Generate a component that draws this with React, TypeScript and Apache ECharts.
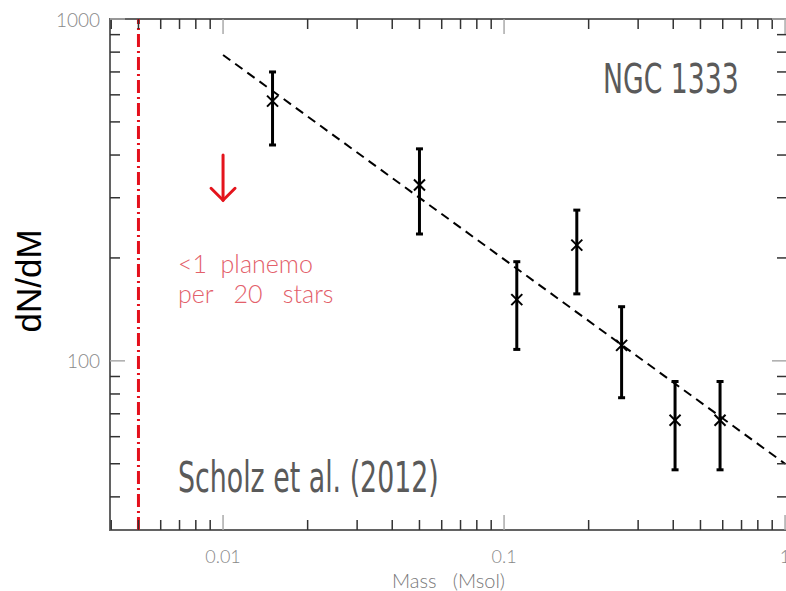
import React, { useEffect, useRef } from "react";
import * as echarts from "echarts";

// Data (Scholz et al. 2012, NGC 1333)
const massVals = [0.015, 0.05, 0.111, 0.1815, 0.262, 0.406, 0.587];
const dndmVals = [575, 327, 151, 218, 111, 67, 67];
const errLow = [428, 235, 108, 157, 78, 48, 48];
const errHigh = [700, 417, 195, 276, 144, 87, 87];

// Power-law fit line endpoints
const fitMass = [0.01, 1.0];
const fitDndm = [785, 50];

// Limit line and arrow
const limitMass = [0.005];
const arrowMass = [0.01];
const arrowTop = [400];
const arrowTip = [295];

// Axis extents and ticks
const X_MIN = 0.00396;
const X_MAX = 1.016;
const Y_MIN = 32;
const Y_MAX = 1000;
const xMajorTicks = [0.01, 0.1, 1];
const xMinorTicks = [0.004, 0.005, 0.006, 0.007, 0.008, 0.009, 0.02, 0.03, 0.04, 0.05, 0.06, 0.07, 0.08, 0.09, 0.2, 0.3, 0.4, 0.5, 0.6, 0.7, 0.8, 0.9];
const yMajorTicks = [100, 1000];
const yMinorTicks = [40, 50, 60, 70, 80, 90, 200, 300, 400, 500, 600, 700, 800, 900];
const xTickLabels: Record<string, string> = { "-2": "0.01", "-1": "0.1", "0": "1" };
const yTickLabels: Record<string, string> = { "2": "100", "3": "1000" };

function labelFor(map: Record<string, string>, v: number) {
  const l = Math.log10(v);
  const r = Math.round(l);
  if (Math.abs(l - r) < 1e-6) return map[String(r)] || "";
  return "";
}

function makeXTickSeries(vals: number[], len: number, color: string) {
  return {
    type: "custom",
    silent: true,
    clip: false,
    z: 5,
    data: vals.map((v) => [v, Y_MIN]),
    encode: { x: 0, y: 1 },
    renderItem: (params: any, api: any) => {
      const v = api.value(0);
      const b = api.coord([v, Y_MIN]);
      const t = api.coord([v, Y_MAX]);
      const style = { stroke: color, lineWidth: 1.5 };
      return {
        type: "group",
        children: [
          { type: "line", shape: { x1: b[0], y1: b[1], x2: b[0], y2: b[1] - len }, style },
          { type: "line", shape: { x1: t[0], y1: t[1], x2: t[0], y2: t[1] + len }, style },
        ],
      };
    },
  };
}

function makeYTickSeries(vals: number[], len: number, color: string) {
  return {
    type: "custom",
    silent: true,
    clip: false,
    z: 5,
    data: vals.map((v) => [X_MIN, v]),
    encode: { x: 0, y: 1 },
    renderItem: (params: any, api: any) => {
      const v = api.value(1);
      const l = api.coord([X_MIN, v]);
      const r = api.coord([X_MAX, v]);
      const style = { stroke: color, lineWidth: 1.5 };
      return {
        type: "group",
        children: [
          { type: "line", shape: { x1: l[0], y1: l[1], x2: l[0] + len, y2: l[1] }, style },
          { type: "line", shape: { x1: r[0], y1: r[1], x2: r[0] - len, y2: r[1] }, style },
        ],
      };
    },
  };
}

export default function App() {
  const ref = useRef<HTMLDivElement>(null);

  useEffect(() => {
    if (!ref.current) return;
    const chart = echarts.init(ref.current, undefined, { renderer: "svg" });

    const pointData = massVals.map((m, i) => [m, dndmVals[i], errLow[i], errHigh[i]]);

    chart.setOption({
      animation: false,
      backgroundColor: "#ffffff",
      grid: {
        left: 110, top: 19, right: -1, bottom: 61,
        outerBoundsMode: "none", containLabel: false,
        show: true, borderColor: "#636363", borderWidth: 2, backgroundColor: "transparent",
      },
      xAxis: {
        type: "log",
        logBase: 10,
        min: X_MIN,
        max: X_MAX,
        name: "Mass   (Msol)",
        nameLocation: "middle",
        nameGap: 34,
        nameTextStyle: { color: "#777777", fontSize: 20, fontFamily: "Lato", fontWeight: 300 },
        axisLine: { show: false },
        axisTick: { show: false },
        splitLine: { show: false },
        minorTick: { show: false },
        axisLabel: {
          margin: 17,
          color: "#888888",
          fontSize: 18,
          fontFamily: "Lato",
          fontWeight: 300,
          formatter: (v: number) => labelFor(xTickLabels, v),
        },
      },
      yAxis: {
        type: "log",
        logBase: 10,
        min: Y_MIN,
        max: Y_MAX,
        axisLine: { show: false },
        axisTick: { show: false },
        splitLine: { show: false },
        axisLabel: {
          margin: 10,
          color: "#888888",
          fontSize: 19,
          fontFamily: "Lato",
          fontWeight: 300,
          formatter: (v: number) => labelFor(yTickLabels, v),
        },
      },
      series: [
        makeXTickSeries(xMinorTicks, 10, "#333333"),
        makeXTickSeries(xMajorTicks, 15, "#aaaaaa"),
        makeYTickSeries(yMinorTicks, 10, "#333333"),
        makeYTickSeries(yMajorTicks, 15, "#aaaaaa"),
        {
          type: "line",
          data: limitMass.flatMap((m) => [[m, Y_MIN], [m, Y_MAX]]),
          symbol: "none",
          silent: true,
          lineStyle: { color: "#e4101c", width: 3, type: [13, 4, 2, 4] },
          z: 3,
        },
        {
          type: "line",
          data: fitMass.map((m, i) => [m, fitDndm[i]]),
          symbol: "none",
          silent: true,
          lineStyle: { color: "#000000", width: 2, type: [9, 6] },
          z: 3,
        },
        {
          type: "custom",
          silent: true,
          z: 4,
          data: pointData,
          encode: { x: 0, y: 1 },
          renderItem: (params: any, api: any) => {
            const c = api.coord([api.value(0), api.value(1)]);
            const lo = api.coord([api.value(0), api.value(2)]);
            const hi = api.coord([api.value(0), api.value(3)]);
            const cap = 3.5;
            const xs = 5.5;
            const st = { stroke: "#000000", lineWidth: 3 };
            const sx = { stroke: "#000000", lineWidth: 2 };
            return {
              type: "group",
              children: [
                { type: "line", shape: { x1: c[0], y1: hi[1], x2: c[0], y2: lo[1] }, style: st },
                { type: "line", shape: { x1: c[0] - cap, y1: hi[1], x2: c[0] + cap, y2: hi[1] }, style: st },
                { type: "line", shape: { x1: c[0] - cap, y1: lo[1], x2: c[0] + cap, y2: lo[1] }, style: st },
                { type: "line", shape: { x1: c[0] - xs, y1: c[1] - xs, x2: c[0] + xs, y2: c[1] + xs }, style: sx },
                { type: "line", shape: { x1: c[0] - xs, y1: c[1] + xs, x2: c[0] + xs, y2: c[1] - xs }, style: sx },
              ],
            };
          },
        },
        {
          type: "custom",
          silent: true,
          z: 4,
          data: arrowMass.map((m, i) => [m, arrowTop[i], arrowTip[i]]),
          encode: { x: 0, y: 1 },
          renderItem: (params: any, api: any) => {
            const t = api.coord([api.value(0), api.value(1)]);
            const b = api.coord([api.value(0), api.value(2)]);
            const st = { stroke: "#e4141c", lineWidth: 3, lineCap: "round" };
            return {
              type: "group",
              children: [
                { type: "line", shape: { x1: t[0], y1: t[1], x2: b[0], y2: b[1] }, style: st },
                { type: "polyline", shape: { points: [[b[0] - 12, b[1] - 12], [b[0], b[1]], [b[0] + 12, b[1] - 12]] }, style: { ...st, fill: "none" } },
              ],
            };
          },
        },
      ],
      graphic: [
        {
          type: "text",
          x: 28,
          y: 281,
          rotation: Math.PI / 2,
          style: { text: "dN/dM", fontSize: 35, fontFamily: "Liberation Sans", fill: "#000000", align: "center", verticalAlign: "middle" },
        },
        {
          type: "text",
          x: 603,
          y: 79,
          scaleX: 0.742,
          style: { text: "NGC 1333", fontSize: 40, fontFamily: "DejaVu Sans Condensed, sans-serif", fill: "#5a5a5a", verticalAlign: "middle" },
        },
        {
          type: "text",
          x: 178,
          y: 478,
          scaleX: 0.71,
          style: { text: "Scholz et al. (2012)", fontSize: 42, fontFamily: "DejaVu Sans Condensed, sans-serif", fill: "#5a5a5a", verticalAlign: "middle" },
        },
        {
          type: "text",
          x: 178,
          y: 263,
          style: { text: "<1  planemo", fontSize: 25, fontFamily: "Lato", fontWeight: 300, fill: "#e3606a", verticalAlign: "middle" },
        },
        {
          type: "text",
          x: 178,
          y: 293,
          style: { text: "per   20   stars", fontSize: 25, fontFamily: "Lato", fontWeight: 300, fill: "#e3606a", verticalAlign: "middle" },
        },
      ],
    });

    return () => chart.dispose();
  }, []);

  return <div ref={ref} style={{ position: "fixed", left: 0, top: 0, width: 786, height: 591, background: "#fff" }} />;
}
